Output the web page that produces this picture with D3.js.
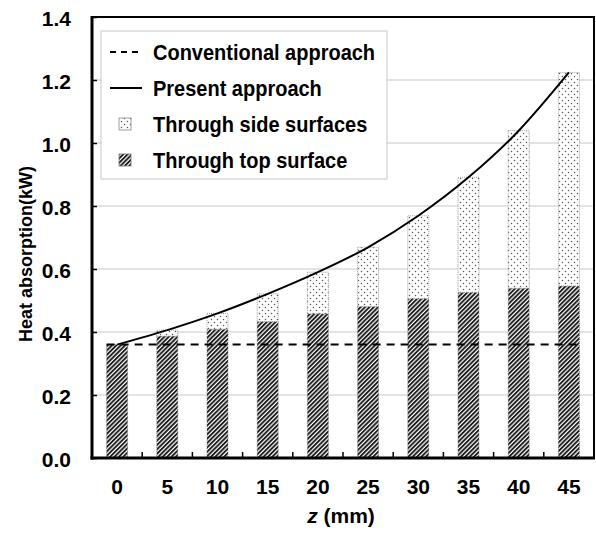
<!DOCTYPE html>
<html>
<head>
<meta charset="utf-8">
<script src="https://cdn.jsdelivr.net/npm/d3@7/dist/d3.min.js"></script>
<style>
  html, body { margin: 0; padding: 0; background: #fff; }
  svg { display: block; font-family: "Liberation Sans", Arial, sans-serif; font-weight: bold; }
</style>
</head>
<body>
<svg id="chart" width="596" height="537"></svg>
<script>
// Heat absorption per depth z (mm)
const zValues = [0, 5, 10, 15, 20, 25, 30, 35, 40, 45];
const topSurface = [0.36, 0.387, 0.409, 0.433, 0.458, 0.481, 0.506, 0.526, 0.539, 0.546];
const sideSurfaces = [0, 0.019, 0.050, 0.088, 0.132, 0.188, 0.263, 0.365, 0.500, 0.678];
const presentApproach = [0.36, 0.406, 0.459, 0.521, 0.590, 0.669, 0.769, 0.891, 1.039, 1.224];
const conventionalApproach = 0.36;
const yTicks = [0, 0.2, 0.4, 0.6, 0.8, 1.0, 1.2, 1.4];
const legendLabels = ["Conventional approach", "Present approach", "Through side surfaces", "Through top surface"];

const svg = d3.select("#chart");
const plot = { left: 92, right: 594, top: 17, bottom: 458 };

const x = d3.scaleBand()
  .domain(zValues)
  .range([plot.left, plot.right])
  .paddingInner(0.582)
  .paddingOuter(0.291);
const y = d3.scaleLinear().domain([0, 1.4]).range([plot.bottom, plot.top]);

// fill patterns
const defs = svg.append("defs");
const hatch = defs.append("pattern")
  .attr("id", "hatch").attr("patternUnits", "userSpaceOnUse")
  .attr("width", 3.1).attr("height", 3.1)
  .attr("patternTransform", "rotate(45)");
hatch.append("rect").attr("width", 3.1).attr("height", 3.1).attr("fill", "#fff");
hatch.append("line").attr("x1", 1).attr("y1", 0).attr("x2", 1).attr("y2", 3.1)
  .attr("stroke", "#111").attr("stroke-width", 1.8);

const dots = defs.append("pattern")
  .attr("id", "dots").attr("patternUnits", "userSpaceOnUse")
  .attr("width", 6).attr("height", 6);
dots.append("rect").attr("width", 6).attr("height", 6).attr("fill", "#fff");
dots.append("circle").attr("cx", 1.5).attr("cy", 1.5).attr("r", 0.75).attr("fill", "#555");
dots.append("circle").attr("cx", 4.5).attr("cy", 4.5).attr("r", 0.75).attr("fill", "#555");

// gridlines
svg.append("g").selectAll("line")
  .data(yTicks.slice(1, -1))
  .join("line")
  .attr("x1", plot.left).attr("x2", plot.right)
  .attr("y1", d => y(d)).attr("y2", d => y(d))
  .attr("stroke", "#c8c8c8").attr("stroke-width", 1);

// stacked bars
const rows = zValues.map((z, i) => ({ z, top: topSurface[i], side: sideSurfaces[i] }));
const bars = svg.append("g");
bars.selectAll("rect.top")
  .data(rows).join("rect").attr("class", "top")
  .attr("x", d => x(d.z)).attr("width", x.bandwidth())
  .attr("y", d => y(d.top)).attr("height", d => y(0) - y(d.top))
  .attr("fill", "url(#hatch)").attr("stroke", "#777").attr("stroke-width", 0.8)
  .attr("stroke-dasharray", "1,1");
bars.selectAll("rect.side")
  .data(rows.filter(d => d.side > 0)).join("rect").attr("class", "side")
  .attr("x", d => x(d.z)).attr("width", x.bandwidth())
  .attr("y", d => y(d.top + d.side)).attr("height", d => y(d.top) - y(d.top + d.side))
  .attr("fill", "url(#dots)").attr("stroke", "#888").attr("stroke-width", 0.8)
  .attr("stroke-dasharray", "1,1");

// conventional approach (constant)
svg.append("line")
  .attr("x1", x(zValues[0])).attr("x2", x(zValues[zValues.length - 1]) + x.bandwidth())
  .attr("y1", y(conventionalApproach)).attr("y2", y(conventionalApproach))
  .attr("stroke", "#000").attr("stroke-width", 2).attr("stroke-dasharray", "8,6");

// present approach curve
const line = d3.line()
  .x((d, i) => x(zValues[i]) + x.bandwidth() / 2)
  .y(d => y(d))
  .curve(d3.curveMonotoneX);
svg.append("path").datum(presentApproach)
  .attr("d", line).attr("fill", "none")
  .attr("stroke", "#000").attr("stroke-width", 2);

// frame
svg.append("rect")
  .attr("x", plot.left).attr("y", plot.top)
  .attr("width", plot.right - plot.left).attr("height", plot.bottom - plot.top)
  .attr("fill", "none").attr("stroke", "#000").attr("stroke-width", 2);
svg.append("line").attr("x1", plot.left).attr("x2", plot.left)
  .attr("y1", plot.top - 1).attr("y2", plot.bottom + 1.5)
  .attr("stroke", "#000").attr("stroke-width", 3);
svg.append("line").attr("x1", plot.left - 1.5).attr("x2", plot.right + 1)
  .attr("y1", plot.bottom).attr("y2", plot.bottom)
  .attr("stroke", "#000").attr("stroke-width", 3);

// y axis
const yAxis = svg.append("g")
  .attr("transform", `translate(${plot.left},0)`)
  .call(d3.axisLeft(y).tickValues(yTicks).tickFormat(d3.format(".1f"))
    .tickSizeInner(-5).tickSizeOuter(0).tickPadding(21));
yAxis.select(".domain").remove();
yAxis.selectAll(".tick line").attr("stroke", "#000").attr("stroke-width", 1.5);
yAxis.selectAll(".tick text")
  .attr("font-size", 21).attr("font-family", "'Liberation Sans', Arial, sans-serif")
  .attr("font-weight", "bold").attr("fill", "#000").attr("dy", "0.4em");

// x axis: labels under bands, ticks at band boundaries
const xAxis = svg.append("g")
  .attr("transform", `translate(0,${plot.bottom})`)
  .call(d3.axisBottom(x).tickSize(0).tickPadding(21));
xAxis.select(".domain").remove();
xAxis.selectAll(".tick text")
  .attr("font-size", 21).attr("font-family", "'Liberation Sans', Arial, sans-serif")
  .attr("font-weight", "bold").attr("fill", "#000");
const step = x.step();
svg.append("g").selectAll("line")
  .data(zValues.slice(1))
  .join("line")
  .attr("x1", d => x(d) - (step - x.bandwidth()) / 2)
  .attr("x2", d => x(d) - (step - x.bandwidth()) / 2)
  .attr("y1", plot.bottom).attr("y2", plot.bottom - 6)
  .attr("stroke", "#000").attr("stroke-width", 1.5);

// axis titles
const xTitle = svg.append("text")
  .attr("x", (plot.left + plot.right) / 2 - 2).attr("y", 523)
  .attr("text-anchor", "middle").attr("font-size", 21).attr("fill", "#000");
xTitle.append("tspan").attr("font-style", "italic").text("z");
xTitle.append("tspan").text(" (mm)");

svg.append("text")
  .attr("transform", `translate(32,254) rotate(-90)`)
  .attr("text-anchor", "middle").attr("font-size", 18).attr("fill", "#000")
  .text("Heat absorption(kW)");

// legend
const legend = svg.append("g");
legend.append("rect")
  .attr("x", 101).attr("y", 31).attr("width", 286).attr("height", 148)
  .attr("fill", "#fff").attr("stroke", "#c8c8c8").attr("stroke-width", 1);
const rowY = [52, 88, 124, 160];
legend.append("line").attr("x1", 110).attr("x2", 142).attr("y1", rowY[0]).attr("y2", rowY[0])
  .attr("stroke", "#000").attr("stroke-width", 2).attr("stroke-dasharray", "6,5");
legend.append("line").attr("x1", 110).attr("x2", 142).attr("y1", rowY[1]).attr("y2", rowY[1])
  .attr("stroke", "#000").attr("stroke-width", 2);
legend.append("rect").attr("x", 119).attr("y", rowY[2] - 6).attr("width", 12).attr("height", 12)
  .attr("fill", "url(#dots)").attr("stroke", "#888").attr("stroke-width", 0.8);
legend.append("rect").attr("x", 119).attr("y", rowY[3] - 6).attr("width", 12).attr("height", 12)
  .attr("fill", "url(#hatch)").attr("stroke", "#777").attr("stroke-width", 0.8);
legend.selectAll("text.lab")
  .data(legendLabels).join("text").attr("class", "lab")
  .attr("transform", (d, i) => `translate(153,${rowY[i] + 7.5}) scale(0.93,1)`)
  .attr("font-size", 21.5).attr("fill", "#000")
  .text(d => d);
</script>
</body>
</html>
